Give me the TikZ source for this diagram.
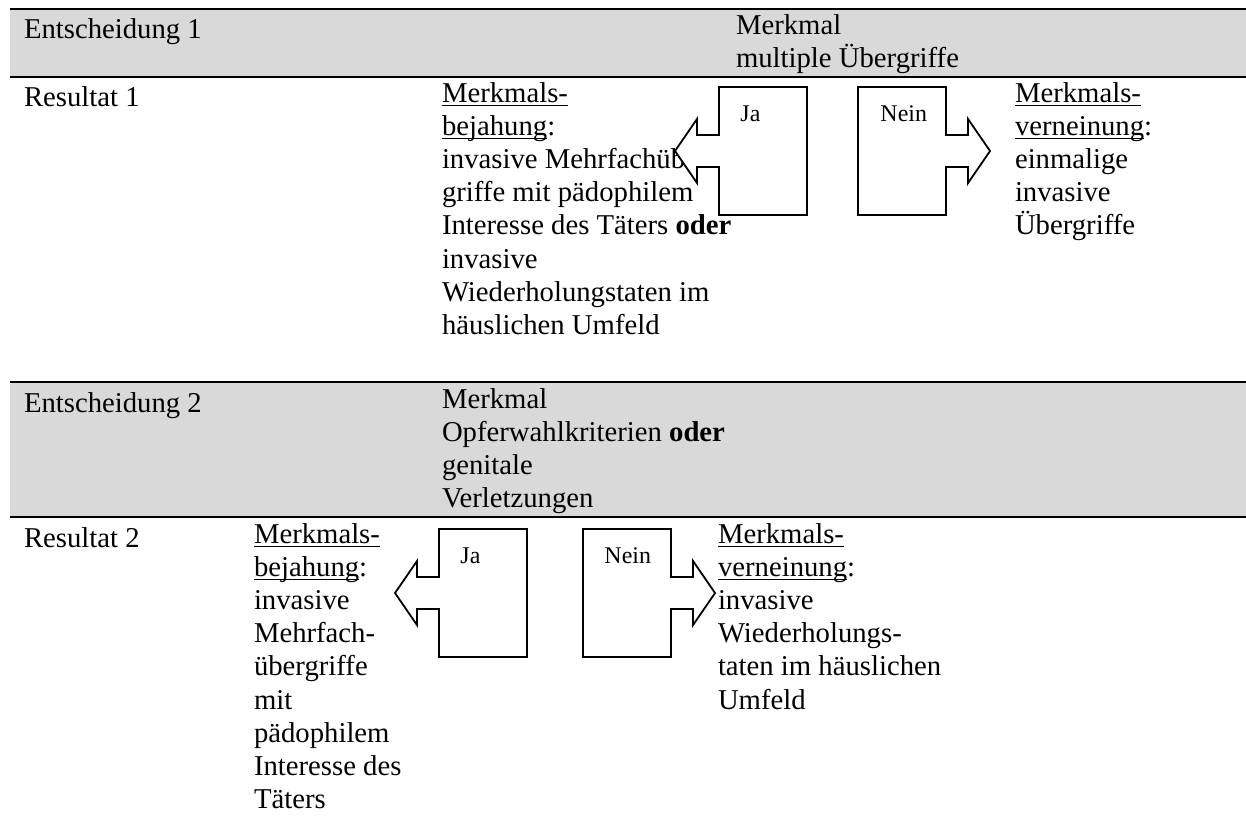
\documentclass[tikz,border=0pt]{standalone}
\usepackage{fontspec}
\setmainfont{Liberation Serif}
\usetikzlibrary{calc, positioning}
\definecolor{bandColor}{RGB}{217,217,217}
\tikzset{cell/.style={anchor=north west, inner sep=0pt, outer sep=0pt, align=left, font=\fontsize{12}{13.8}\selectfont, execute at begin node=\strut}}
\tikzset{callbox/.style={anchor=north west, inner sep=0pt, outer sep=0pt, minimum width=36.8pt, minimum height=53.5pt}}
\tikzset{callout/.style={draw=black, fill=white, line width=0.75pt}}
\tikzset{boxlabel/.style={anchor=base west, inner sep=0pt, font=\fontsize{10}{11.5}\selectfont}}
\tikzstyle{rule} = [line width=1pt]

% underline as in the word table
\newcommand{\mkul}[1]{\setbox0=\hbox{#1}\rlap{\rule[-1.3pt]{\wd0}{0.5pt}}\box0}
% box with arrow to the left / right
\newcommand{\leftcallout}[1]{\filldraw[callout] (#1.north east) -- (#1.north west) -- ($(#1.west)+(0,-16)$) -- ++(-22,0) -- ++(0,-16) -- ($(#1.west)+(-44,0)$) -- ($(#1.west)+(-22,32)$) -- ++(0,-16) -- ($(#1.west)+(0,16)$) -- (#1.south west) -- (#1.south east) -- cycle;}
\newcommand{\rightcallout}[1]{\filldraw[callout] (#1.north west) -- (#1.north east) -- ($(#1.east)+(0,-16)$) -- ++(22,0) -- ++(0,-16) -- ($(#1.east)+(44,0)$) -- ($(#1.east)+(22,32)$) -- ++(0,-16) -- ($(#1.east)+(0,16)$) -- (#1.south east) -- (#1.south west) -- cycle;}

\begin{document}
\begin{tikzpicture}[x=0.418pt, y=-0.418pt]
	\useasboundingbox (0,0) rectangle (1246,818);

	% Bands
	\fill[bandColor] (10,9) rectangle (1246,77);
	\fill[bandColor] (10,382) rectangle (1246,517);
	\draw[rule] (10,9) -- (1246,9);
	\draw[rule] (10,77) -- (1246,77);
	\draw[rule] (10,382) -- (1246,382);
	\draw[rule] (10,517) -- (1246,517);

	% Nodes
	\node (decision1) [cell] at (24,15) {Entscheidung 1};
	\node (feature1) [cell] at (736,15) {Merkmal\\multiple Übergriffe};
	\node (result1) [cell] at (24,83) {Resultat 1};
	\node (yestext1) [cell] at (442,83) {\mkul{Merkmals-}\\\mkul{bejahung}:\\invasive Mehrfachüber-\\griffe mit pädophilem\\Interesse des Täters \textbf{oder}\\invasive\\Wiederholungstaten im\\häuslichen Umfeld};
	\node (notext1) [cell] at (1015,83) {\mkul{Merkmals-}\\\mkul{verneinung}:\\einmalige\\invasive\\Übergriffe};

	\node (decision2) [cell] at (24,389) {Entscheidung 2};
	\node (feature2) [cell] at (442,389) {Merkmal\\Opferwahlkriterien \textbf{oder}\\genitale\\Verletzungen};
	\node (result2) [cell] at (24,524) {Resultat 2};
	\node (yestext2) [cell] at (254,524) {\mkul{Merkmals-}\\\mkul{bejahung}:\\invasive\\Mehrfach-\\übergriffe\\mit\\pädophilem\\Interesse des\\Täters};
	\node (notext2) [cell] at (718,524) {\mkul{Merkmals-}\\\mkul{verneinung}:\\invasive\\Wiederholungs-\\taten im häuslichen\\Umfeld};

	\node (yes1) [callbox] at (719,87) {};
	\node (no1) [callbox] at (858,87) {};
	\node (yes2) [callbox] at (439,529) {};
	\node (no2) [callbox] at (583,529) {};

	% Arrows
	\leftcallout{yes1}
	\rightcallout{no1}
	\leftcallout{yes2}
	\rightcallout{no2}

	\node (yeslabel1) [boxlabel] at (740,121) {Ja};
	\node (nolabel1) [boxlabel] at (880,121) {Nein};
	\node (yeslabel2) [boxlabel] at (460,563) {Ja};
	\node (nolabel2) [boxlabel] at (604,563) {Nein};

\end{tikzpicture}
\end{document}
